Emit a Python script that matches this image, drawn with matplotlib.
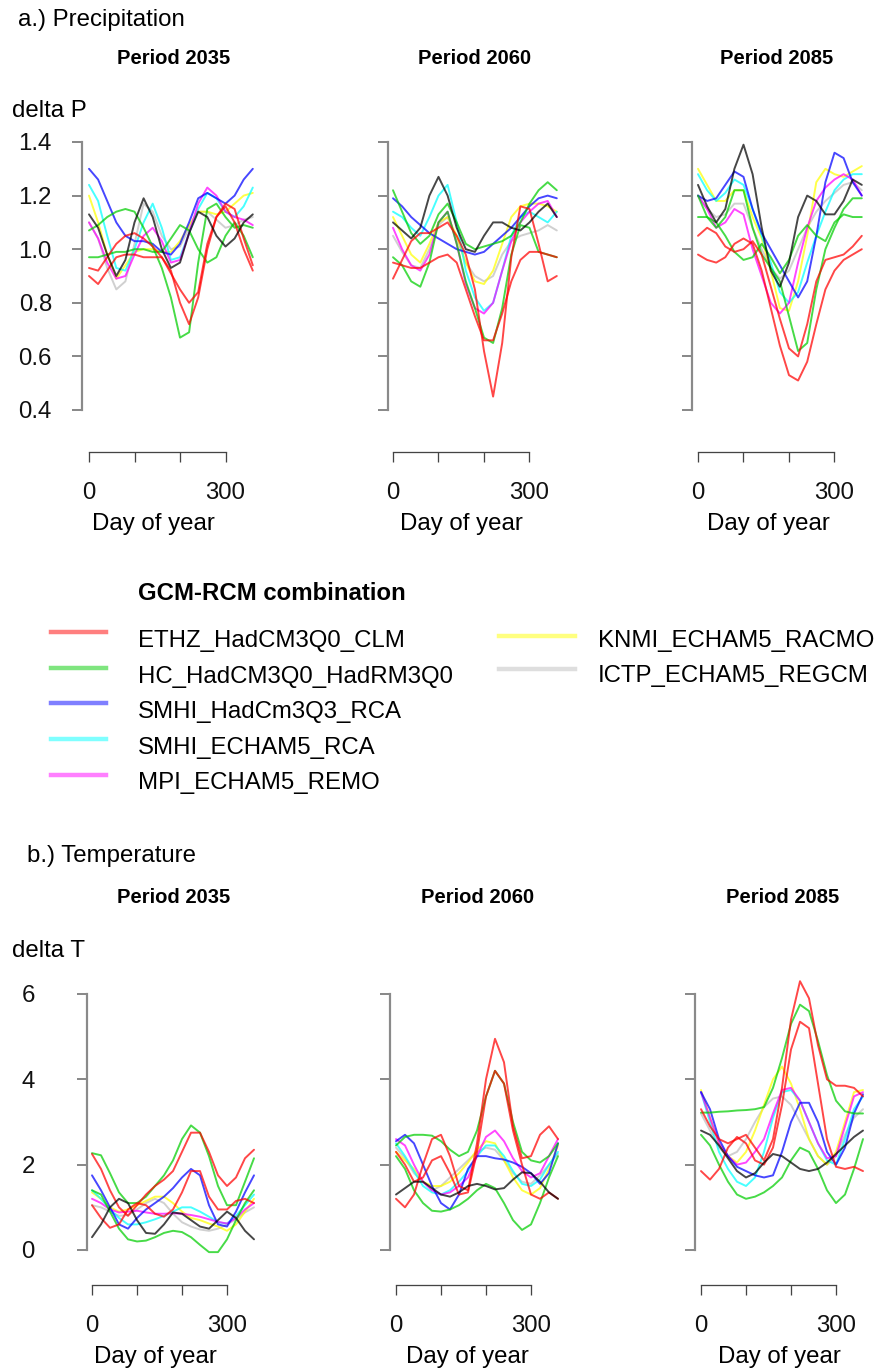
import matplotlib
matplotlib.use("Agg")
import matplotlib.pyplot as plt

# ---------------- data ----------------
DAYS = [0, 20, 40, 60, 80, 100, 120, 140, 160, 180, 200, 220, 240, 260, 280, 300, 320, 340, 360]

MODELS = ["ETHZ_HadCM3Q0_CLM", "HC_HadCM3Q0_HadRM3Q0", "SMHI_HadCm3Q3_RCA",
          "SMHI_ECHAM5_RCA", "MPI_ECHAM5_REMO", "KNMI_ECHAM5_RACMO", "ICTP_ECHAM5_REGCM"]
MODEL_COLORS = ["#FF0000", "#00CD00", "#0000FF", "#00FFFF", "#FF00FF", "#FFFF00", "#BEBEBE"]
PERIODS = ["Period 2035", "Period 2060", "Period 2085"]

# Precipitation, period 2035
P35_RED_A = [0.93, 0.92, 0.97, 1.02, 1.05, 1.06, 1.04, 1.01, 0.97, 0.91, 0.85, 0.80, 0.84, 1.02, 1.12, 1.17, 1.15, 1.04, 0.94]
P35_RED_B = [0.90, 0.87, 0.92, 0.97, 0.98, 0.98, 0.97, 0.97, 0.97, 0.92, 0.80, 0.72, 0.82, 1.00, 1.12, 1.16, 1.10, 1.00, 0.92]
P35_GREEN_A = [1.07, 1.09, 1.12, 1.14, 1.15, 1.14, 1.08, 1.01, 0.93, 0.82, 0.67, 0.69, 0.95, 1.15, 1.17, 1.12, 1.08, 1.09, 1.08]
P35_GREEN_B = [0.97, 0.97, 0.98, 0.99, 0.99, 1.00, 1.00, 0.99, 0.99, 1.04, 1.09, 1.07, 1.00, 0.95, 0.97, 1.05, 1.10, 1.05, 0.97]
P35_BLUE = [1.30, 1.26, 1.18, 1.10, 1.05, 1.03, 1.03, 1.02, 0.99, 0.98, 1.02, 1.10, 1.19, 1.21, 1.19, 1.17, 1.20, 1.26, 1.30]
P35_CYAN = [1.24, 1.18, 1.05, 0.93, 0.92, 1.00, 1.10, 1.17, 1.08, 0.96, 0.97, 1.06, 1.15, 1.21, 1.19, 1.14, 1.12, 1.16, 1.23]
P35_MAGENTA = [1.10, 1.04, 0.95, 0.89, 0.90, 0.98, 1.05, 1.08, 1.03, 0.95, 0.96, 1.06, 1.17, 1.23, 1.20, 1.14, 1.12, 1.11, 1.09]
P35_YELLOW = [1.20, 1.10, 0.98, 0.89, 0.94, 0.99, 1.00, 1.00, 0.99, 0.99, 1.03, 1.09, 1.14, 1.14, 1.13, 1.14, 1.17, 1.20, 1.21]
P35_GRAY = [1.10, 1.04, 0.93, 0.85, 0.88, 1.02, 1.17, 1.14, 1.05, 1.00, 1.01, 1.08, 1.14, 1.14, 1.11, 1.08, 1.09, 1.11, 1.12]
P35_BLACK = [1.13, 1.08, 0.98, 0.90, 0.96, 1.10, 1.19, 1.12, 1.00, 0.93, 0.95, 1.06, 1.14, 1.12, 1.05, 1.01, 1.04, 1.10, 1.13]

# Precipitation, period 2060
P60_RED_A = [0.89, 0.96, 1.03, 1.06, 1.06, 1.08, 1.10, 1.05, 0.98, 0.85, 0.62, 0.45, 0.65, 0.97, 1.16, 1.15, 1.02, 0.88, 0.90]
P60_RED_B = [0.95, 0.94, 0.93, 0.93, 0.95, 0.97, 0.98, 0.95, 0.85, 0.75, 0.66, 0.66, 0.76, 0.88, 0.96, 0.99, 0.99, 0.98, 0.97]
P60_GREEN_A = [1.22, 1.14, 1.06, 1.02, 1.05, 1.13, 1.17, 1.10, 1.02, 1.00, 1.01, 1.02, 1.03, 1.05, 1.10, 1.17, 1.22, 1.25, 1.22]
P60_GREEN_B = [0.97, 0.94, 0.88, 0.86, 0.95, 1.10, 1.14, 1.02, 0.88, 0.78, 0.67, 0.65, 0.78, 0.98, 1.09, 1.08, 0.99, 0.98, 0.97]
P60_BLUE = [1.19, 1.16, 1.12, 1.09, 1.06, 1.04, 1.02, 1.00, 0.99, 0.98, 0.99, 1.02, 1.05, 1.08, 1.12, 1.16, 1.19, 1.20, 1.19]
P60_CYAN = [1.14, 1.12, 1.08, 1.05, 1.12, 1.20, 1.24, 1.10, 0.92, 0.82, 0.77, 0.80, 0.92, 1.05, 1.12, 1.14, 1.12, 1.10, 1.14]
P60_MAGENTA = [1.08, 1.00, 0.94, 0.92, 0.98, 1.10, 1.14, 1.02, 0.87, 0.78, 0.76, 0.80, 0.92, 1.03, 1.10, 1.14, 1.17, 1.18, 1.12]
P60_YELLOW = [1.12, 1.05, 0.98, 0.95, 1.02, 1.10, 1.12, 1.05, 0.95, 0.88, 0.87, 0.92, 1.02, 1.12, 1.16, 1.17, 1.17, 1.16, 1.14]
P60_GRAY = [1.05, 0.99, 0.94, 0.93, 1.00, 1.09, 1.12, 1.04, 0.95, 0.90, 0.88, 0.90, 0.98, 1.03, 1.05, 1.06, 1.07, 1.09, 1.07]
P60_BLACK = [1.10, 1.07, 1.04, 1.08, 1.20, 1.27, 1.20, 1.08, 1.00, 0.99, 1.05, 1.10, 1.10, 1.08, 1.07, 1.10, 1.14, 1.17, 1.12]

# Precipitation, period 2085
P85_RED_A = [1.05, 1.08, 1.06, 1.01, 0.99, 1.00, 1.03, 0.98, 0.86, 0.74, 0.63, 0.60, 0.72, 0.88, 0.96, 0.97, 0.98, 1.01, 1.05]
P85_RED_B = [0.98, 0.96, 0.95, 0.97, 1.02, 1.04, 1.02, 0.92, 0.78, 0.64, 0.53, 0.51, 0.58, 0.72, 0.85, 0.92, 0.96, 0.98, 1.00]
P85_GREEN_A = [1.20, 1.12, 1.08, 1.12, 1.22, 1.22, 1.08, 0.98, 0.93, 0.88, 0.75, 0.62, 0.65, 0.85, 1.00, 1.08, 1.15, 1.19, 1.19]
P85_GREEN_B = [1.12, 1.12, 1.10, 1.05, 0.99, 0.96, 0.97, 1.02, 0.97, 0.91, 0.96, 1.05, 1.09, 1.05, 1.03, 1.10, 1.13, 1.12, 1.12]
P85_BLUE = [1.20, 1.18, 1.19, 1.24, 1.29, 1.27, 1.15, 1.06, 1.00, 0.94, 0.88, 0.82, 0.88, 1.05, 1.25, 1.36, 1.34, 1.25, 1.20]
P85_CYAN = [1.28, 1.22, 1.18, 1.21, 1.26, 1.24, 1.15, 1.05, 0.95, 0.84, 0.80, 0.84, 0.95, 1.05, 1.14, 1.22, 1.26, 1.28, 1.28]
P85_MAGENTA = [1.20, 1.15, 1.08, 1.10, 1.15, 1.13, 1.00, 0.90, 0.80, 0.76, 0.80, 0.95, 1.08, 1.18, 1.23, 1.26, 1.28, 1.26, 1.20]
P85_YELLOW = [1.30, 1.24, 1.18, 1.18, 1.22, 1.22, 1.12, 1.04, 0.92, 0.78, 0.77, 0.88, 1.05, 1.25, 1.30, 1.28, 1.27, 1.29, 1.31]
P85_GRAY = [1.20, 1.15, 1.12, 1.13, 1.17, 1.17, 1.08, 1.00, 0.93, 0.89, 0.92, 1.00, 1.08, 1.14, 1.18, 1.21, 1.24, 1.25, 1.22]
P85_BLACK = [1.24, 1.16, 1.10, 1.15, 1.30, 1.39, 1.28, 1.08, 0.92, 0.86, 0.95, 1.12, 1.20, 1.18, 1.13, 1.13, 1.18, 1.26, 1.24]

# Temperature, period 2035
T35_RED_A = [2.25, 1.90, 1.40, 1.00, 0.80, 1.05, 1.30, 1.50, 1.65, 1.85, 2.30, 2.75, 2.75, 2.30, 1.75, 1.50, 1.70, 2.15, 2.35]
T35_RED_B = [1.05, 0.75, 0.52, 0.60, 0.95, 1.10, 1.05, 0.85, 0.78, 0.95, 1.35, 1.85, 1.85, 1.25, 0.95, 0.95, 1.15, 1.20, 1.10]
T35_GREEN_A = [2.27, 2.22, 1.80, 1.35, 1.10, 1.10, 1.25, 1.50, 1.75, 2.10, 2.60, 2.92, 2.75, 2.20, 1.50, 1.05, 1.05, 1.60, 2.15]
T35_GREEN_B = [1.40, 1.30, 0.90, 0.50, 0.25, 0.20, 0.22, 0.30, 0.40, 0.45, 0.42, 0.30, 0.12, -0.05, -0.05, 0.25, 0.70, 1.10, 1.40]
T35_BLUE = [1.75, 1.40, 1.00, 0.60, 0.50, 0.75, 0.95, 1.10, 1.25, 1.45, 1.70, 1.90, 1.75, 1.05, 0.60, 0.55, 0.90, 1.35, 1.75]
T35_CYAN = [1.40, 1.20, 0.95, 0.75, 0.60, 0.60, 0.65, 0.72, 0.80, 0.90, 1.00, 1.00, 0.90, 0.78, 0.65, 0.62, 0.80, 1.05, 1.30]
T35_MAGENTA = [1.20, 1.10, 0.95, 0.88, 0.90, 0.92, 0.88, 0.85, 0.85, 0.86, 0.85, 0.82, 0.78, 0.72, 0.66, 0.62, 0.75, 0.95, 1.10]
T35_YELLOW = [1.35, 1.20, 1.00, 0.90, 0.95, 1.05, 1.15, 1.25, 1.25, 1.10, 0.90, 0.75, 0.70, 0.62, 0.55, 0.45, 0.60, 0.90, 1.20]
T35_GRAY = [1.05, 1.00, 0.90, 0.80, 0.82, 0.95, 1.10, 1.20, 1.10, 0.85, 0.65, 0.55, 0.48, 0.45, 0.50, 0.60, 0.72, 0.88, 1.00]
T35_BLACK = [0.30, 0.60, 1.00, 1.20, 1.10, 0.70, 0.40, 0.38, 0.60, 0.88, 0.85, 0.70, 0.55, 0.50, 0.70, 0.90, 0.75, 0.45, 0.25]

# Temperature, period 2060
T60_RED_A = [1.20, 1.00, 1.30, 2.00, 2.60, 2.70, 2.20, 1.50, 1.40, 2.50, 4.00, 4.95, 4.40, 2.90, 2.15, 2.20, 2.70, 2.90, 2.60]
T60_RED_B = [2.30, 2.00, 1.60, 1.70, 2.10, 2.20, 1.80, 1.30, 1.35, 2.30, 3.60, 4.20, 3.90, 2.80, 2.00, 1.30, 1.20, 1.35, 1.20]
T60_GREEN_A = [2.45, 2.65, 2.70, 2.70, 2.68, 2.55, 2.35, 2.20, 2.30, 2.80, 3.60, 4.20, 3.90, 3.00, 2.30, 2.10, 2.05, 2.20, 2.50]
T60_GREEN_B = [2.20, 1.90, 1.40, 1.10, 0.92, 0.90, 0.95, 1.05, 1.20, 1.40, 1.55, 1.45, 1.10, 0.70, 0.47, 0.60, 1.10, 1.70, 2.20]
T60_BLUE = [2.55, 2.70, 2.50, 2.00, 1.50, 1.10, 0.95, 1.30, 1.90, 2.20, 2.20, 2.15, 2.12, 2.05, 1.95, 1.80, 1.55, 1.80, 2.50]
T60_CYAN = [2.50, 2.20, 1.85, 1.50, 1.35, 1.30, 1.40, 1.60, 1.85, 2.20, 2.45, 2.45, 2.20, 1.85, 1.55, 1.50, 1.65, 2.00, 2.30]
T60_MAGENTA = [2.60, 2.45, 2.00, 1.60, 1.40, 1.30, 1.35, 1.50, 1.70, 2.20, 2.65, 2.80, 2.55, 2.15, 1.85, 1.70, 1.80, 2.20, 2.60]
T60_YELLOW = [2.30, 2.10, 1.90, 1.60, 1.50, 1.50, 1.60, 1.80, 2.05, 2.35, 2.55, 2.50, 2.10, 1.70, 1.40, 1.30, 1.45, 1.90, 2.45]
T60_GRAY = [2.40, 2.15, 1.80, 1.60, 1.40, 1.50, 1.70, 1.90, 2.10, 2.30, 2.40, 2.35, 2.10, 1.80, 1.60, 1.55, 1.75, 2.00, 2.25]
T60_BLACK = [1.30, 1.45, 1.60, 1.60, 1.45, 1.30, 1.25, 1.35, 1.50, 1.55, 1.50, 1.42, 1.45, 1.65, 1.82, 1.80, 1.60, 1.35, 1.20]

# Temperature, period 2085
T85_RED_A = [3.30, 2.90, 2.60, 2.50, 2.60, 2.70, 2.40, 2.10, 2.60, 3.80, 5.40, 6.30, 5.90, 4.80, 4.00, 3.85, 3.85, 3.80, 3.60]
T85_RED_B = [1.85, 1.65, 1.90, 2.40, 2.65, 2.50, 2.10, 2.00, 2.40, 3.40, 4.70, 5.35, 5.20, 3.90, 2.60, 1.95, 1.90, 1.95, 1.85]
T85_GREEN_A = [3.22, 3.22, 3.24, 3.25, 3.27, 3.28, 3.30, 3.35, 3.80, 4.50, 5.30, 5.75, 5.60, 4.90, 4.10, 3.50, 3.25, 3.20, 3.20]
T85_GREEN_B = [2.70, 2.45, 2.00, 1.60, 1.30, 1.20, 1.25, 1.35, 1.50, 1.70, 2.10, 2.40, 2.30, 1.90, 1.40, 1.10, 1.30, 1.90, 2.60]
T85_BLUE = [3.70, 3.30, 2.60, 2.20, 1.95, 1.85, 1.75, 1.70, 1.75, 2.30, 3.00, 3.45, 3.45, 3.00, 2.30, 2.00, 2.40, 3.20, 3.65]
T85_CYAN = [3.70, 3.00, 2.30, 1.90, 1.60, 1.50, 1.70, 2.30, 3.10, 3.70, 3.75, 3.50, 3.00, 2.50, 2.10, 2.00, 2.60, 3.30, 3.60]
T85_MAGENTA = [3.70, 3.10, 2.50, 2.20, 2.00, 2.05, 2.30, 2.60, 3.20, 3.75, 3.80, 3.50, 3.00, 2.50, 2.15, 2.20, 2.90, 3.60, 3.70]
T85_YELLOW = [3.75, 3.10, 2.50, 2.20, 2.05, 2.30, 2.80, 3.40, 4.00, 4.30, 3.90, 3.30, 2.60, 2.20, 2.00, 2.30, 3.00, 3.70, 3.75]
T85_GRAY = [3.20, 2.80, 2.40, 2.20, 2.30, 2.60, 3.00, 3.35, 3.55, 3.60, 3.40, 3.00, 2.60, 2.20, 2.00, 2.20, 2.70, 3.10, 3.30]
T85_BLACK = [2.80, 2.70, 2.45, 2.15, 1.85, 1.70, 1.80, 2.05, 2.25, 2.20, 2.05, 1.90, 1.85, 1.90, 2.05, 2.25, 2.45, 2.65, 2.80]

P_PANELS = [
    [P35_GRAY, P35_YELLOW, P35_CYAN, P35_MAGENTA, P35_BLUE, P35_GREEN_A, P35_GREEN_B, P35_RED_A, P35_RED_B, P35_BLACK],
    [P60_GRAY, P60_YELLOW, P60_CYAN, P60_MAGENTA, P60_BLUE, P60_GREEN_A, P60_GREEN_B, P60_RED_A, P60_RED_B, P60_BLACK],
    [P85_GRAY, P85_YELLOW, P85_CYAN, P85_MAGENTA, P85_BLUE, P85_GREEN_A, P85_GREEN_B, P85_RED_A, P85_RED_B, P85_BLACK],
]
T_PANELS = [
    [T35_GRAY, T35_YELLOW, T35_CYAN, T35_MAGENTA, T35_BLUE, T35_GREEN_A, T35_GREEN_B, T35_RED_A, T35_RED_B, T35_BLACK],
    [T60_GRAY, T60_YELLOW, T60_CYAN, T60_MAGENTA, T60_BLUE, T60_GREEN_A, T60_GREEN_B, T60_RED_A, T60_RED_B, T60_BLACK],
    [T85_GRAY, T85_YELLOW, T85_CYAN, T85_MAGENTA, T85_BLUE, T85_GREEN_A, T85_GREEN_B, T85_RED_A, T85_RED_B, T85_BLACK],
]
LINE_COLORS = ["#BEBEBE", "#FFFF00", "#00FFFF", "#FF00FF", "#0000FF", "#00CD00", "#00CD00", "#FF0000", "#FF0000", "#000000"]

P_TICKS = [0.4, 0.6, 0.8, 1.0, 1.2, 1.4]
P_TICKLABELS = ["0.4", "0.6", "0.8", "1.0", "1.2", "1.4"]
T_TICKS = [0, 2, 4, 6]
T_TICKLABELS = ["0", "2", "4", "6"]
X_TICKS = [0, 100, 200, 300]
X_TICKLABELS = ["0", "", "", "300"]

# ---------------- layout ----------------
W, H = 879, 1369
PT = 0.72  # points per pixel at dpi 100
FS = 17.3
plt.rcParams["font.family"] = ["Liberation Sans", "DejaVu Sans"]
fig = plt.figure(figsize=(W / 100, H / 100), dpi=100)


def ftext(x, y, s, **kw):
    fig.text(x / W, 1 - y / H, s, **kw)


def panel(spine_x, x0, pxday, ylo, yhi, py, axis_py, yticks, ylabels, ypad, series):
    left = spine_x
    right = x0 + 372 * pxday
    top, bottom = py(yhi), py(ylo)
    ax = fig.add_axes([left / W, 1 - bottom / H, (right - left) / W, (bottom - top) / H])
    ax.set_xlim(-(x0 - spine_x) / pxday, 372)
    ax.set_ylim(ylo, yhi)
    ax.patch.set_visible(False)
    for s in ["top", "right"]:
        ax.spines[s].set_visible(False)
    for vals, col in zip(series, LINE_COLORS):
        ax.plot(DAYS, vals, color=col, lw=1.4, alpha=0.72, clip_on=False,
                solid_capstyle="round", solid_joinstyle="round")
    ax.spines["left"].set_bounds(yticks[0], yticks[-1])
    ax.spines["left"].set_color("#8a8a8a")
    ax.spines["left"].set_linewidth(2.2 * PT)
    ax.set_yticks(yticks)
    if ylabels is not None:
        ax.set_yticklabels(ylabels, fontsize=FS)
    else:
        ax.set_yticklabels([])
    ax.tick_params(axis="y", direction="out", length=10 * PT, width=2.0 * PT,
                   color="#8a8a8a", pad=ypad * PT, labelcolor="#111111")
    ax.spines["bottom"].set_position(("outward", (axis_py - bottom) * PT))
    ax.spines["bottom"].set_bounds(0, 300)
    ax.spines["bottom"].set_color("#444444")
    ax.spines["bottom"].set_linewidth(1.3 * PT)
    ax.set_xticks(X_TICKS)
    ax.set_xticklabels(X_TICKLABELS, fontsize=FS)
    ax.tick_params(axis="x", direction="out", length=10 * PT, width=1.3 * PT,
                   color="#444444", pad=20 * PT, labelcolor="#111111")
    return ax


def p_py(v):
    return 142 + (1.4 - v) * 268


def t_py(v):
    return 1250 - v * 256 / 6


P_SPINE = [82, 388, 692]
P_X0 = [89, 393, 698]
T_SPINE = [87, 390, 695]
T_X0 = [92, 396, 701]

for i in range(3):
    panel(P_SPINE[i], P_X0[i], 0.455, 0.4, 1.4, p_py, 452, P_TICKS,
          P_TICKLABELS if i == 0 else None, 20, P_PANELS[i])
    panel(T_SPINE[i], T_X0[i], 0.45, -0.3, 6.0, t_py, 1285, T_TICKS,
          T_TICKLABELS if i == 0 else None, 42, T_PANELS[i])

# ---------------- texts ----------------
ftext(18, 26, "a.) Precipitation", fontsize=FS, va="baseline", ha="left")
ftext(27, 862, "b.) Temperature", fontsize=FS, va="baseline", ha="left")
for cx, s in zip([174, 475, 777], PERIODS):
    ftext(cx, 64, s, fontsize=14.5, fontweight="bold", ha="center", va="baseline")
for cx, s in zip([174, 478, 783], PERIODS):
    ftext(cx, 903, s, fontsize=14.5, fontweight="bold", ha="center", va="baseline")
ftext(12, 117, "delta P", fontsize=FS, va="baseline", ha="left")
ftext(12, 957, "delta T", fontsize=FS, va="baseline", ha="left")
for cx in [153, 461, 768]:
    ftext(cx, 530, "Day of year", fontsize=FS, ha="center", va="baseline")
for cx in [155, 467, 779]:
    ftext(cx, 1363, "Day of year", fontsize=FS, ha="center", va="baseline")

# ---------------- legend ----------------
lg = fig.add_axes([0, 0, 1, 1])
lg.set_xlim(0, W)
lg.set_ylim(H, 0)
lg.axis("off")
lg.patch.set_visible(False)
lg.text(138, 600, "GCM-RCM combination", fontsize=FS, fontweight="bold", va="baseline", ha="left")
COL1_LINE_Y = [632, 668, 703, 739, 775]
COL1_TEXT_Y = [647, 683, 718, 754, 789]
COL2_LINE_Y = [636, 669]
COL2_TEXT_Y = [647, 682]
for k in range(5):
    lg.plot([51, 106], [COL1_LINE_Y[k]] * 2, color=MODEL_COLORS[k], lw=3.2, alpha=0.5)
    lg.text(138, COL1_TEXT_Y[k], MODELS[k], fontsize=FS, va="baseline", ha="left")
for k in range(2):
    lg.plot([499, 575], [COL2_LINE_Y[k]] * 2, color=MODEL_COLORS[5 + k], lw=3.2, alpha=0.5)
    lg.text(598, COL2_TEXT_Y[k], MODELS[5 + k], fontsize=FS, va="baseline", ha="left")

fig.savefig("out.png", dpi=100)
